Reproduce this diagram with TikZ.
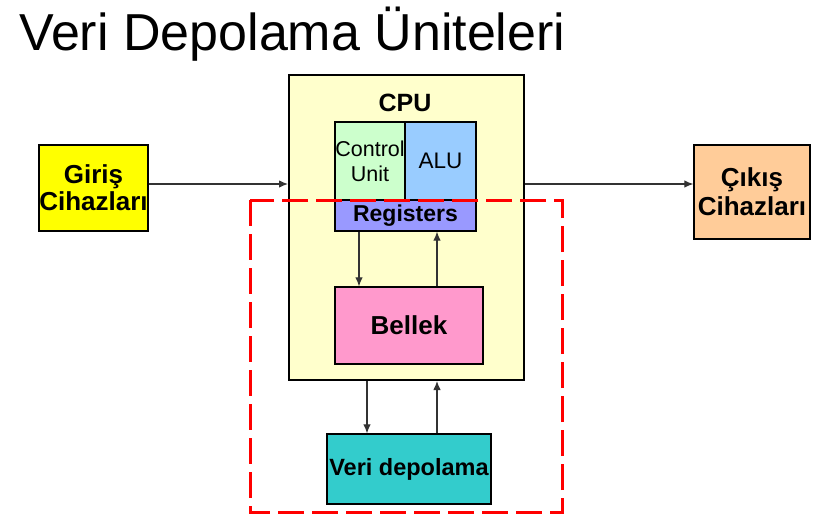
\documentclass[tikz,border=0pt]{standalone}
\usepackage{fontspec}
\setmainfont{Liberation Sans}
\usetikzlibrary{arrows.meta}
\definecolor{cpuY}{HTML}{FFFFCC}
\definecolor{ctrlG}{HTML}{CCFFCC}
\definecolor{aluB}{HTML}{99CCFF}
\definecolor{regP}{HTML}{9999FF}
\definecolor{belP}{HTML}{FF99CC}
\definecolor{veriC}{HTML}{33CCCC}
\definecolor{girY}{HTML}{FFFF00}
\definecolor{cikO}{HTML}{FFCC99}
\definecolor{arrG}{HTML}{333333}
\begin{document}
\begin{tikzpicture}[x=1pt,y=-1pt,
  box/.style={draw=black, line width=1.3pt, inner sep=0pt, align=center, font=\bfseries\fontsize{26}{29}\selectfont},
  arr/.style={draw=arrG, line width=1.1pt, -{Latex[length=9pt,width=7.5pt]}},
  reddash/.style={draw=red, line width=3pt, dash pattern=on 26pt off 8pt}
]
\useasboundingbox (0,0) rectangle (833,528);
\node[anchor=base west, inner sep=0pt, font=\fontsize{52}{58}\selectfont] (title) at (19,50) {Veri Depolama Üniteleri};

\node[box, fill=cpuY, line width=2pt, minimum width=235pt, minimum height=305pt] (cpu) at (406.5,227.5) {};
\node[inner sep=0pt, font=\bfseries\fontsize{25}{29}\selectfont] (cpulbl) at (405,103) {CPU};
\node[box, fill=ctrlG, font=\fontsize{21.5}{25}\selectfont, minimum width=70pt, minimum height=78pt] (ctrl) at (370,161) {Control\\Unit};
\node[box, fill=aluB, font=\fontsize{22.5}{26}\selectfont, minimum width=71pt, minimum height=78pt] (alu) at (440.5,161) {ALU};
\node[box, fill=regP, font=\bfseries\fontsize{23}{26}\selectfont, minimum width=141pt, minimum height=31pt] (regs) at (405.5,215.5) {Registers};
\node[box, fill=belP, font=\bfseries\fontsize{26}{29}\selectfont, minimum width=148pt, minimum height=77pt] (bellek) at (409,325.5) {Bellek};
\node[box, fill=veriC, font=\bfseries\fontsize{23.5}{27}\selectfont, minimum width=164pt, minimum height=70pt] (veri) at (409,469) {Veri depolama};
\node[box, fill=girY, font=\bfseries\fontsize{26}{27}\selectfont, minimum width=109pt, minimum height=86pt] (gir) at (93.5,188) {Giriş\\Cihazları};
\node[box, fill=cikO, minimum width=116pt, minimum height=94pt] (cik) at (752,192) {Çıkış\\Cihazları};

\draw[arr] (gir.east |- 0,184) -- (cpu.west |- 0,184);
\draw[arr] (cpu.east |- 0,184) -- (cik.west |- 0,184);
\draw[arr] (regs.south -| 359,0) -- (bellek.north -| 359,0);
\draw[arr] (bellek.north -| 437,0) -- (regs.south -| 437,0);
\draw[arr] (cpu.south -| 367,0) -- (veri.north -| 367,0);
\draw[arr] (veri.north -| 437,0) -- (cpu.south -| 437,0);

\coordinate (rd1) at (250,200);
\coordinate (rd2) at (562,512);
\draw[reddash] (rd1) rectangle (rd2);
\end{tikzpicture}
\end{document}
